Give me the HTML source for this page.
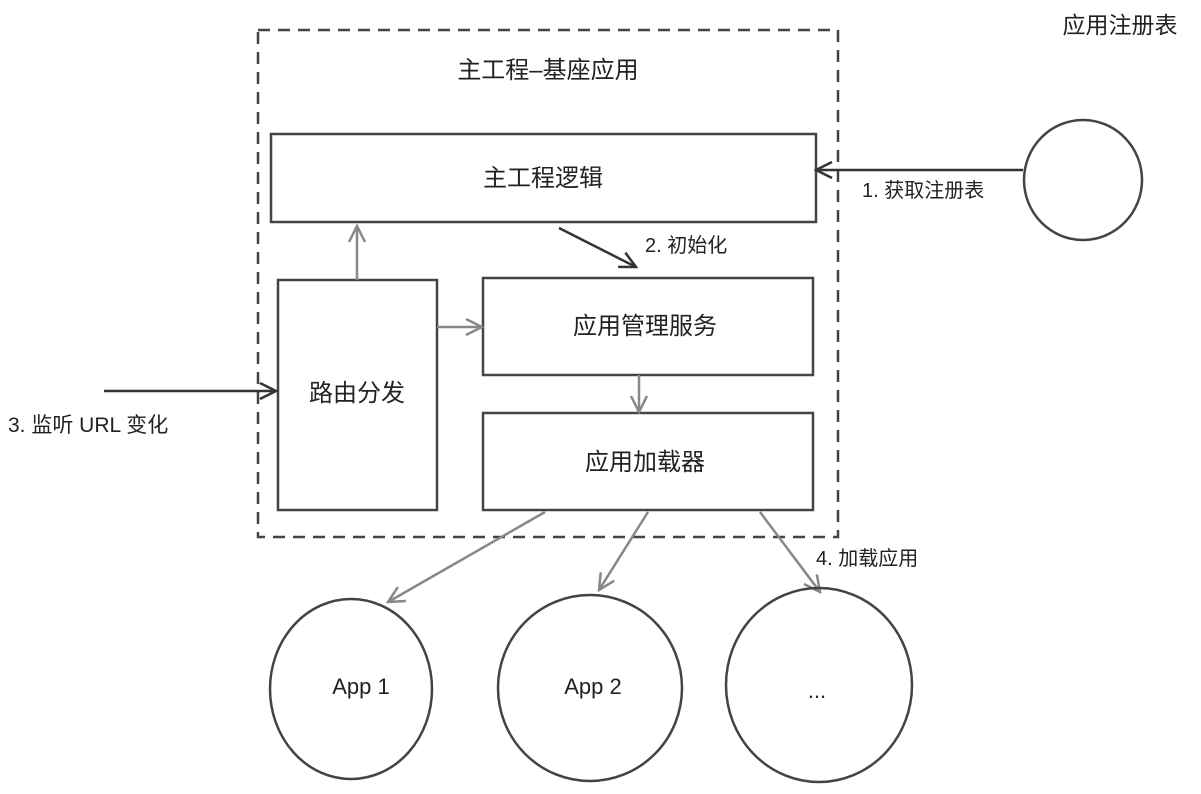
<!DOCTYPE html>
<html><head><meta charset="utf-8"><style>
body{margin:0;background:#fff;}
svg text{font-family:"Liberation Sans","Noto Sans CJK SC",sans-serif;fill:#222;}
</style></head><body>
<svg width="1201" height="789" viewBox="0 0 1201 789" xmlns="http://www.w3.org/2000/svg">
<defs>
<marker id="ad" viewBox="0 0 20 20" refX="18" refY="10" markerWidth="20" markerHeight="20" markerUnits="userSpaceOnUse" orient="auto"><path d="M2,2 L18,10 L2,18" fill="none" stroke="#333" stroke-width="2.5"/></marker>
<marker id="ag" viewBox="0 0 20 20" refX="18" refY="10" markerWidth="20" markerHeight="20" markerUnits="userSpaceOnUse" orient="auto"><path d="M2,2 L18,10 L2,18" fill="none" stroke="#888" stroke-width="2.5"/></marker>
</defs>
<rect x="258" y="30" width="580" height="507" fill="none" stroke="#444" stroke-width="2.5" stroke-dasharray="12,8"/>
<text x="548" y="78" font-size="24" text-anchor="middle">主工程–基座应用</text>
<rect x="271" y="134" width="545" height="88" fill="#fff" stroke="#444" stroke-width="2.5"/>
<text x="543" y="186" font-size="24" text-anchor="middle">主工程逻辑</text>
<rect x="278" y="280" width="159" height="230" fill="#fff" stroke="#444" stroke-width="2.5"/>
<text x="357" y="401" font-size="24" text-anchor="middle">路由分发</text>
<rect x="483" y="278" width="330" height="97" fill="#fff" stroke="#444" stroke-width="2.5"/>
<text x="645" y="334" font-size="24" text-anchor="middle">应用管理服务</text>
<rect x="483" y="413" width="330" height="97" fill="#fff" stroke="#444" stroke-width="2.5"/>
<text x="645" y="470" font-size="24" text-anchor="middle">应用加载器</text>
<text x="1120" y="33" font-size="23" text-anchor="middle">应用注册表</text>
<ellipse cx="1083" cy="180" rx="59" ry="60" fill="none" stroke="#444" stroke-width="2.5"/>
<line x1="1023" y1="170" x2="816" y2="170" stroke="#333" stroke-width="2.5" marker-end="url(#ad)"/>
<text x="862" y="197" font-size="20">1. 获取注册表</text>
<line x1="559" y1="228" x2="636" y2="267" stroke="#333" stroke-width="2.5" marker-end="url(#ad)"/>
<text x="645" y="252" font-size="20">2. 初始化</text>
<line x1="357" y1="280" x2="357" y2="226" stroke="#888" stroke-width="2.5" marker-end="url(#ag)"/>
<line x1="437" y1="327" x2="482" y2="327" stroke="#888" stroke-width="2.5" marker-end="url(#ag)"/>
<line x1="639" y1="375" x2="639" y2="412" stroke="#888" stroke-width="2.5" marker-end="url(#ag)"/>
<line x1="104" y1="391" x2="276" y2="391" stroke="#333" stroke-width="2.5" marker-end="url(#ad)"/>
<text x="8" y="432" font-size="21">3. 监听 URL 变化</text>
<line x1="545" y1="512" x2="388" y2="602" stroke="#888" stroke-width="2.5" marker-end="url(#ag)"/>
<line x1="648" y1="512" x2="599" y2="590" stroke="#888" stroke-width="2.5" marker-end="url(#ag)"/>
<line x1="760" y1="512" x2="820" y2="592" stroke="#888" stroke-width="2.5" marker-end="url(#ag)"/>
<text x="816" y="565" font-size="20">4. 加载应用</text>
<ellipse cx="351" cy="689" rx="81" ry="90" fill="none" stroke="#444" stroke-width="2.5"/>
<ellipse cx="590" cy="688" rx="92" ry="93" fill="none" stroke="#444" stroke-width="2.5"/>
<ellipse cx="819" cy="685" rx="93" ry="97" fill="none" stroke="#444" stroke-width="2.5"/>
<text x="361" y="694" font-size="22" text-anchor="middle">App 1</text>
<text x="593" y="694" font-size="22" text-anchor="middle">App 2</text>
<text x="817" y="698" font-size="22" text-anchor="middle">...</text>
</svg>
</body></html>
